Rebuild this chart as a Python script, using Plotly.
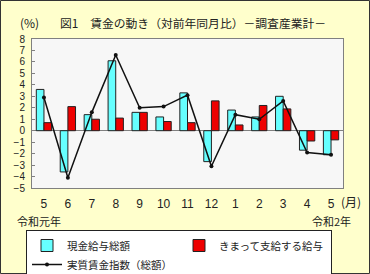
import plotly.graph_objects as go

months = ["5", "6", "7", "8", "9", "10", "11", "12", "1", "2", "3", "4", "5"]
cash_total = [3.6, -3.6, 1.4, 6.1, 1.6, 1.2, 3.3, -2.7, 1.8, 1.2, 3.0, -1.7, -2.1]
regular_pay = [0.7, 2.1, 1.0, 1.1, 1.6, 0.8, 0.7, 2.6, 0.5, 2.2, 1.9, -0.9, -0.8]
real_wage = [2.9, -4.1, 1.6, 6.6, 2.0, 2.1, 3.1, -3.1, 1.4, 1.0, 2.6, -1.9, -2.1]
xcat = list(range(len(months)))

FONT = "Noto Sans CJK JP"
W, H = 370, 274
L, R, T, B = 32, 27, 39, 86
PW, PH = W - L - R, H - T - B

def px(x):
    return (x - L) / PW

def py(y):
    return (H - B - y) / PH

fig = go.Figure()
fig.add_trace(go.Bar(x=xcat, y=cash_total, name="現金給与総額",
                     marker=dict(color="#66FFFF", line=dict(color="#222222", width=1))))
fig.add_trace(go.Bar(x=xcat, y=regular_pay, name="きまって支給する給与",
                     marker=dict(color="#EE0000", line=dict(color="#222222", width=1))))
fig.add_trace(go.Scatter(x=xcat, y=real_wage, name="実質賃金指数（総額）", mode="lines+markers",
                         line=dict(color="#111111", width=1.5),
                         marker=dict(color="#111111", size=4)))

fig.update_layout(
    width=W, height=H,
    margin=dict(l=L, r=R, t=T, b=B, autoexpand=False),
    paper_bgcolor="#FFFFCC",
    plot_bgcolor="#F7F7F7",
    font=dict(family=FONT, size=11, color="#222222"),
    barmode="group", bargap=0.36, bargroupgap=0.0,
    showlegend=True,
    legend=dict(orientation="h", x=px(26), y=py(230), xanchor="left", yanchor="top",
                bgcolor="#FFFFFF", bordercolor="#222222", borderwidth=1,
                font=dict(family=FONT, size=10.5), entrywidth=107, tracegroupgap=0,
                itemwidth=30),
    xaxis=dict(tickmode="array", tickvals=xcat, ticktext=months, range=[-0.5, len(months) - 0.5],
               showgrid=False, zeroline=False, showline=True, linecolor="#808080", mirror=True,
               ticks="", ticklabelstandoff=5, tickfont=dict(size=12, family="Liberation Sans")),
    yaxis=dict(range=[-5, 8], dtick=1, showgrid=False, zeroline=True, zerolinecolor="#808080",
               zerolinewidth=1, showline=True, linecolor="#808080", mirror=True,
               ticks="inside", ticklen=3, tickcolor="#808080",
               tickfont=dict(size=10, family="Liberation Sans"), ticklabelstandoff=4),
)

annos = [
    dict(text="(%)", x=px(29), y=py(23), xanchor="center", font=dict(size=12)),
    dict(text="図1　賃金の動き（対前年同月比）－調査産業計－", x=px(58), y=py(23), xanchor="left",
         font=dict(size=11.8)),
    dict(text="(月)", x=px(351), y=py(201), xanchor="center", font=dict(size=12)),
    dict(text="令和元年", x=px(15), y=py(221), xanchor="left"),
    dict(text="令和2年", x=px(353), y=py(221), xanchor="right"),
]
for a in annos:
    a.setdefault("font", dict(size=11))
    fig.add_annotation(xref="paper", yref="paper", yanchor="middle", showarrow=False, **a)

fig.add_shape(type="rect", xref="paper", yref="paper",
              x0=px(0.5), x1=px(W - 0.5), y0=py(H - 0.5), y1=py(0.5),
              line=dict(color="#333333", width=1), layer="above")

fig.write_html("out.html")
